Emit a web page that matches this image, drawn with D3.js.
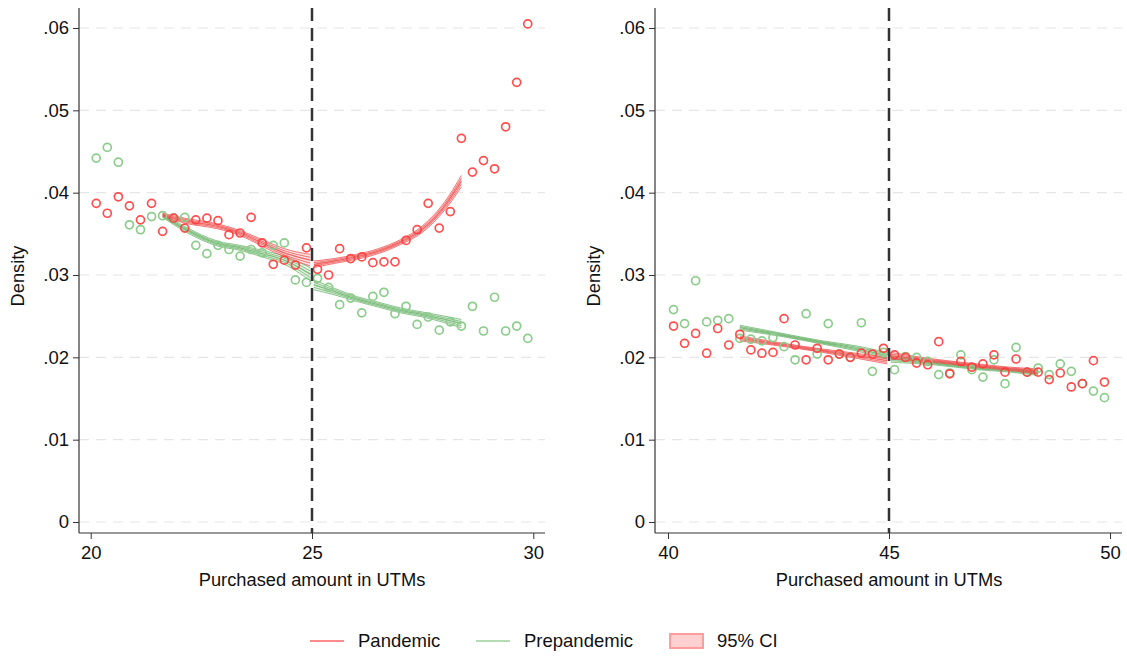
<!DOCTYPE html>
<html>
<head>
<meta charset="utf-8">
<script src="https://cdn.jsdelivr.net/npm/d3@7"></script>
<style>
  body { margin: 0; background: #fff; }
  svg { display: block; font-family: "Liberation Sans", Arial, sans-serif; }
</style>
</head>
<body>
<svg id="chart" width="1127" height="659"></svg>
<script>
// bins (purchased amount in UTMs)
var leftBins = [20.125,20.375,20.625,20.875,21.125,21.375,21.625,21.875,22.125,22.375,22.625,22.875,23.125,23.375,23.625,23.875,24.125,24.375,24.625,24.875,
  25.125,25.375,25.625,25.875,26.125,26.375,26.625,26.875,27.125,27.375,27.625,27.875,28.125,28.375,28.625,28.875,29.125,29.375,29.625,29.875];
var rightBins = [40.125,40.375,40.625,40.875,41.125,41.375,41.625,41.875,42.125,42.375,42.625,42.875,43.125,43.375,43.625,43.875,44.125,44.375,44.625,44.875,
  45.125,45.375,45.625,45.875,46.125,46.375,46.625,46.875,47.125,47.375,47.625,47.875,48.125,48.375,48.625,48.875,49.125,49.375,49.625,49.875];

// binned densities
var leftPandemic = [0.0387,0.0375,0.0395,0.0384,0.0367,0.0387,0.0353,0.0369,0.0357,0.0367,0.0369,0.0366,0.0349,0.0351,0.0370,0.0339,0.0313,0.0318,0.0312,0.0333,
  0.0307,0.0300,0.0332,0.0320,0.0322,0.0315,0.0316,0.0316,0.0342,0.0355,0.0387,0.0357,0.0377,0.0466,0.0425,0.0439,0.0429,0.0480,0.0534,0.0605];
var leftPrepandemic = [0.0442,0.0455,0.0437,0.0361,0.0355,0.0371,0.0372,0.0369,0.0370,0.0336,0.0326,0.0336,0.0331,0.0323,0.0331,0.0327,0.0336,0.0339,0.0294,0.0291,
  0.0296,0.0285,0.0264,0.0272,0.0254,0.0274,0.0279,0.0253,0.0262,0.0240,0.0249,0.0233,0.0243,0.0238,0.0262,0.0232,0.0273,0.0232,0.0238,0.0223];
var rightPandemic = [0.0238,0.0217,0.0229,0.0205,0.0235,0.0215,0.0228,0.0209,0.0205,0.0206,0.0247,0.0215,0.0197,0.0211,0.0197,0.0204,0.0200,0.0205,0.0204,0.0211,
  0.0203,0.0200,0.0193,0.0191,0.0219,0.0180,0.0195,0.0188,0.0192,0.0203,0.0182,0.0198,0.0182,0.0182,0.0173,0.0181,0.0164,0.0168,0.0196,0.0170];
var rightPrepandemic = [0.0258,0.0241,0.0293,0.0243,0.0245,0.0247,0.0223,0.0222,0.0220,0.0224,0.0213,0.0197,0.0253,0.0204,0.0241,0.0204,0.0200,0.0242,0.0183,0.0206,
  0.0185,0.0201,0.0200,0.0195,0.0179,0.0181,0.0203,0.0185,0.0176,0.0197,0.0168,0.0212,0.0182,0.0187,0.0179,0.0192,0.0183,0.0168,0.0159,0.0151];

// local fits with 95% CI half widths, left panel
var leftFitBeforeX = [21.625, 22.125, 22.875, 23.375, 23.875, 24.375, 24.96];
var leftFitPanBefore = [0.0373, 0.0366, 0.0359, 0.0351, 0.0339, 0.0327, 0.0318];
var leftCiPanBefore = [0.0002, 0.0003, 0.0003, 0.0003, 0.0004, 0.0005, 0.0007];
var leftFitPreBefore = [0.0372, 0.0356, 0.0338, 0.0333, 0.0326, 0.0318, 0.0301];
var leftCiPreBefore = [0.0002, 0.0003, 0.0003, 0.0003, 0.0004, 0.0005, 0.0008];
var leftFitAfterX = [25.04, 25.5, 26.0, 26.5, 27.0, 27.5, 28.0, 28.375];
var leftFitPanAfter = [0.0313, 0.0317, 0.0322, 0.0329, 0.0340, 0.0356, 0.0384, 0.0414];
var leftCiPanAfter = [0.0004, 0.0003, 0.0003, 0.0003, 0.0003, 0.0004, 0.0005, 0.0007];
var leftFitPreAfter = [0.0288, 0.0280, 0.0271, 0.0264, 0.0257, 0.0252, 0.0246, 0.0241];
var leftCiPreAfter = [0.0006, 0.0004, 0.0003, 0.0003, 0.0003, 0.0003, 0.0004, 0.0005];

// right panel fits
var rightFitBeforeX = [41.625, 42.5, 43.5, 44.25, 44.96];
var rightFitPanBefore = [0.0223, 0.0216, 0.0208, 0.0202, 0.0196];
var rightCiPanBefore = [0.0003, 0.0002, 0.0002, 0.0003, 0.0004];
var rightFitPreBefore = [0.0236, 0.0228, 0.0218, 0.0211, 0.0202];
var rightCiPreBefore = [0.0003, 0.0002, 0.0002, 0.0003, 0.0004];
var rightFitAfterX = [45.04, 46.0, 47.0, 47.75, 48.375];
var rightFitPanAfter = [0.0202, 0.0196, 0.0190, 0.0186, 0.0183];
var rightCiPanAfter = [0.0004, 0.0002, 0.0002, 0.0002, 0.0003];
var rightFitPreAfter = [0.0198, 0.0193, 0.0187, 0.0184, 0.0181];
var rightCiPreAfter = [0.0004, 0.0002, 0.0002, 0.0002, 0.0003];

var yTicks = [0, 0.01, 0.02, 0.03, 0.04, 0.05, 0.06];
var yTickLabels = ["0", ".01", ".02", ".03", ".04", ".05", ".06"];

var red = "#ff3b3b", green = "#8ccc8c";
var redFit = "#f05050", greenFit = "#6cb46c";

var svg = d3.select("#chart");

function drawPanel(cfg) {
  var g = svg.append("g");
  var x = d3.scaleLinear().domain(cfg.xDomain).range(cfg.xRange);
  var y = d3.scaleLinear().domain([0, 0.06]).range([522, 28]);
  var top = 8, bottom = 533;

  // grid
  g.selectAll(".grid").data(yTicks).enter().append("line")
    .attr("x1", cfg.axisX).attr("x2", cfg.axisEnd)
    .attr("y1", d => y(d)).attr("y2", d => y(d))
    .attr("stroke", "#e6e6e6").attr("stroke-width", 1.2)
    .attr("stroke-dasharray", "10,7");

  // y axis
  var yAxis = d3.axisLeft(y).tickValues(yTicks).tickSize(6)
    .tickFormat((d, i) => yTickLabels[i]);
  var ya = g.append("g").attr("transform", "translate(" + cfg.axisX + ",0)").call(yAxis);
  ya.select(".domain").remove();
  ya.append("line").attr("x1", 0).attr("x2", 0).attr("y1", top).attr("y2", bottom)
    .attr("stroke", "#333").attr("stroke-width", 1.2);
  ya.selectAll(".tick line").attr("stroke", "#333");
  ya.selectAll(".tick text").attr("font-size", 18.5).attr("fill", "#111").attr("x", -10)
    .attr("font-family", "Liberation Sans, Arial, sans-serif");

  // x axis
  var xAxis = d3.axisBottom(x).tickValues(cfg.xTicks).tickSize(6).tickFormat(d3.format("d"));
  var xa = g.append("g").attr("transform", "translate(0," + bottom + ")").call(xAxis);
  xa.select(".domain").remove();
  xa.append("line").attr("x1", cfg.axisX).attr("x2", cfg.axisEnd).attr("y1", 0).attr("y2", 0)
    .attr("stroke", "#333").attr("stroke-width", 1.2);
  xa.selectAll(".tick line").attr("stroke", "#333");
  xa.selectAll(".tick text").attr("font-size", 18.5).attr("fill", "#111").attr("y", 13)
    .attr("font-family", "Liberation Sans, Arial, sans-serif");

  // titles
  g.append("text").attr("x", x(cfg.cutoff)).attr("y", 586).attr("text-anchor", "middle")
    .attr("font-size", 18.3).attr("fill", "#111").text("Purchased amount in UTMs");
  g.append("text").attr("transform", "translate(" + cfg.titleX + ",276) rotate(-90)")
    .attr("text-anchor", "middle").attr("font-size", 18.3).attr("fill", "#111").text("Density");

  // fits with hatched CI
  function band(xs, fit, ci, col) {
    var pts = xs.map((d, i) => ({x: d, y: fit[i], c: ci[i]}));
    var area = d3.area().curve(d3.curveMonotoneX)
      .x(d => x(d.x)).y0(d => y(d.y - d.c)).y1(d => y(d.y + d.c));
    g.append("path").datum(pts).attr("d", area)
      .attr("fill", col).attr("fill-opacity", 0.18).attr("stroke", "none");
    [-1, -0.5, 0, 0.5, 1].forEach(function(k) {
      var line = d3.line().curve(d3.curveMonotoneX)
        .x(d => x(d.x)).y(d => y(d.y + k * d.c));
      g.append("path").datum(pts).attr("d", line)
        .attr("fill", "none").attr("stroke", col)
        .attr("stroke-width", k === 0 ? 1.3 : 0.9).attr("stroke-opacity", 0.85);
    });
  }
  band(cfg.fits.beforeX, cfg.fits.preBefore, cfg.fits.preCiBefore, greenFit);
  band(cfg.fits.afterX, cfg.fits.preAfter, cfg.fits.preCiAfter, greenFit);
  band(cfg.fits.beforeX, cfg.fits.panBefore, cfg.fits.panCiBefore, redFit);
  band(cfg.fits.afterX, cfg.fits.panAfter, cfg.fits.panCiAfter, redFit);

  // scatter
  g.selectAll(".pre").data(cfg.bins).enter().append("circle")
    .attr("cx", d => x(d)).attr("cy", (d, i) => y(cfg.pre[i])).attr("r", 4)
    .attr("fill", "none").attr("stroke", green).attr("stroke-width", 1.7);
  g.selectAll(".pan").data(cfg.bins).enter().append("circle")
    .attr("cx", d => x(d)).attr("cy", (d, i) => y(cfg.pan[i])).attr("r", 4)
    .attr("fill", "none").attr("stroke", red).attr("stroke-width", 1.7).attr("stroke-opacity", 0.9);

  // cutoff
  g.append("line").attr("x1", x(cfg.cutoff)).attr("x2", x(cfg.cutoff))
    .attr("y1", top).attr("y2", bottom)
    .attr("stroke", "#333").attr("stroke-width", 2.5).attr("stroke-dasharray", "13,7");
}

drawPanel({
  xDomain: [20, 30], xRange: [90.7, 533.3], xTicks: [20, 25, 30], cutoff: 25,
  axisX: 79, axisEnd: 545, titleX: 24,
  bins: leftBins, pan: leftPandemic, pre: leftPrepandemic,
  fits: {
    beforeX: leftFitBeforeX, afterX: leftFitAfterX,
    panBefore: leftFitPanBefore, panCiBefore: leftCiPanBefore,
    preBefore: leftFitPreBefore, preCiBefore: leftCiPreBefore,
    panAfter: leftFitPanAfter, panCiAfter: leftCiPanAfter,
    preAfter: leftFitPreAfter, preCiAfter: leftCiPreAfter
  }
});

drawPanel({
  xDomain: [40, 50], xRange: [668, 1110], xTicks: [40, 45, 50], cutoff: 45,
  axisX: 655, axisEnd: 1122, titleX: 600,
  bins: rightBins, pan: rightPandemic, pre: rightPrepandemic,
  fits: {
    beforeX: rightFitBeforeX, afterX: rightFitAfterX,
    panBefore: rightFitPanBefore, panCiBefore: rightCiPanBefore,
    preBefore: rightFitPreBefore, preCiBefore: rightCiPreBefore,
    panAfter: rightFitPanAfter, panCiAfter: rightCiPanAfter,
    preAfter: rightFitPreAfter, preCiAfter: rightCiPreAfter
  }
});

// legend
var legend = svg.append("g");
legend.append("line").attr("x1", 310).attr("x2", 344).attr("y1", 641).attr("y2", 641)
  .attr("stroke", "#ff8c8c").attr("stroke-width", 2);
legend.append("text").attr("x", 358).attr("y", 647).attr("font-size", 18.5).attr("fill", "#111").text("Pandemic");
legend.append("line").attr("x1", 476).attr("x2", 510).attr("y1", 641).attr("y2", 641)
  .attr("stroke", "#b4dcb4").attr("stroke-width", 2);
legend.append("text").attr("x", 524).attr("y", 647).attr("font-size", 18.5).attr("fill", "#111").text("Prepandemic");
legend.append("rect").attr("x", 670).attr("y", 634).attr("width", 33).attr("height", 14)
  .attr("fill", "#ffd0d0").attr("stroke", "#ff9c9c").attr("stroke-width", 2);
legend.append("text").attr("x", 717).attr("y", 647).attr("font-size", 18.5).attr("fill", "#111").text("95% CI");
</script>
</body>
</html>
